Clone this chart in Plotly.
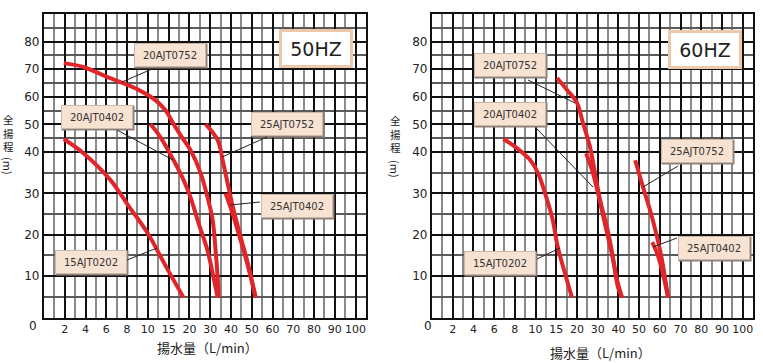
import numpy as np
import plotly.graph_objects as go

W, H = 763, 363

# ---------------- axis labels ----------------
x_tick_values = [0, 2, 4, 6, 8, 10, 15, 20, 30, 40, 50, 60, 70, 80, 90, 100]
x_tick_labels = ["", "2", "4", "6", "8", "10", "15", "20", "30", "40", "50", "60", "70", "80", "90", "100"]
y_tick_values = [10, 20, 30, 40, 50, 60, 70, 80]
y_minor_values = [5, 15, 25, 35, 45, 55, 65, 75, 85]

# ---------------- data (flow L/min, head m) ----------------
# 50 Hz
q15_50 = [1.9, 3.8, 6.4, 8.1, 10.0, 14.2, 18.6]
h15_50 = [44.7, 39.7, 33.2, 27.1, 20.3, 12.6, 4.8]
q20_0752_50 = [1.9, 3.8, 5.9, 7.3, 9.1, 11.8, 14.2, 16.2, 18.3, 20.5, 25.4, 28.7, 31.2, 32.6, 33.6, 34.1]
h20_0752_50 = [72.2, 70.8, 67.5, 65.4, 62.5, 58.8, 55.2, 50.1, 45.1, 40.7, 34.9, 29.1, 23.5, 16.2, 9.7, 4.8]
q20_0402_50 = [10.6, 13.0, 16.2, 18.6, 20.5, 24.4, 28.7, 31.6, 33.6]
h20_0402_50 = [50.1, 45.4, 38.0, 33.2, 29.1, 22.8, 16.2, 9.7, 4.8]
q25_0752_50 = [27.8, 33.6, 36.0, 38.4, 41.3, 44.7, 48.1, 51.9]
h25_0752_50 = [50.1, 44.3, 38.0, 32.4, 25.9, 19.4, 13.1, 4.8]
q25_0402_50 = [37.4, 40.6, 44.2, 47.8, 51.9]
h25_0402_50 = [30.0, 25.4, 19.4, 13.1, 4.8]
# 60 Hz
q15_60 = [6.9, 8.2, 9.5, 10.6, 12.3, 14.0, 15.4, 17.1, 18.8]
h15_60 = [44.7, 41.4, 38.0, 34.9, 30.0, 24.2, 16.9, 10.7, 4.8]
q20_0752_60 = [15.2, 17.6, 20.0, 22.9, 26.3, 28.7, 31.2, 34.5, 37.4, 39.8, 41.8]
h20_0752_60 = [66.8, 62.5, 57.8, 50.5, 41.8, 34.9, 28.3, 21.8, 14.5, 7.3, 4.8]
q20_0402_60 = [24.4, 27.3, 30.2, 33.1, 36.5, 39.4, 41.8]
h20_0402_60 = [39.7, 35.6, 30.0, 23.5, 16.2, 9.0, 4.8]
q25_0752_60 = [48.1, 51.9, 55.3, 58.7, 61.1, 64.0]
h25_0752_60 = [38.0, 31.5, 25.9, 19.4, 13.8, 4.8]
q25_0402_60 = [56.3, 58.7, 61.1, 64.0]
h25_0402_60 = [18.2, 15.5, 11.4, 4.8]

# ---------------- non-linear axis scales ----------------
X_GRID = [2 * i for i in range(len(x_tick_values))]   # each label two grid cells apart


def gx(q):
    return np.interp(q, x_tick_values, X_GRID)


def uy(h):
    return np.interp(h, [0, 40, 90], [0, 60, 110])


RED = "#e0262a"
FONT = "DejaVu Sans"
CJK = "Noto Sans CJK JP"

fig = go.Figure()

series = [
    ("x", "y", q15_50, h15_50), ("x", "y", q20_0752_50, h20_0752_50),
    ("x", "y", q20_0402_50, h20_0402_50), ("x", "y", q25_0752_50, h25_0752_50),
    ("x", "y", q25_0402_50, h25_0402_50),
    ("x2", "y2", q15_60, h15_60), ("x2", "y2", q20_0752_60, h20_0752_60),
    ("x2", "y2", q20_0402_60, h20_0402_60), ("x2", "y2", q25_0752_60, h25_0752_60),
    ("x2", "y2", q25_0402_60, h25_0402_60),
]
for xa, ya, q, h in series:
    fig.add_trace(go.Scatter(x=gx(q), y=uy(h), mode="lines", xaxis=xa, yaxis=ya,
                             line=dict(color=RED, width=4, shape="spline", smoothing=1.0),
                             hoverinfo="skip", showlegend=False))


def px_x(p):
    return p / W


def px_y(p):
    return 1 - p / H


def xaxis_cfg(x0, x1):
    return dict(domain=[px_x(x0), px_x(x1)], range=[0, 31], tickmode="array",
                tickvals=X_GRID, ticktext=x_tick_labels, showgrid=True,
                gridcolor="#111111", gridwidth=1.7,
                minor=dict(tickmode="array", tickvals=list(range(0, 32)), showgrid=True,
                           gridcolor="#8a8a8a", gridwidth=1.7),
                showline=True, linecolor="#111111", linewidth=2.2, mirror=True,
                zeroline=False, ticks="", tickfont=dict(family=FONT, size=11, color="#222"),
                fixedrange=True)


def yaxis_cfg(anchor):
    return dict(domain=[px_y(317.5), px_y(14)], range=[0, 110], tickmode="array",
                tickvals=list(uy(y_tick_values)), ticktext=[str(v) for v in y_tick_values],
                showgrid=True, gridcolor="#111111", gridwidth=1.7,
                minor=dict(tickmode="array", tickvals=list(uy(y_minor_values)), showgrid=True,
                           gridcolor="#5a5a5a", gridwidth=1.5),
                showline=True, linecolor="#111111", linewidth=2.2, mirror=True,
                zeroline=False, ticks="", tickfont=dict(family=FONT, size=12, color="#222"),
                anchor=anchor, fixedrange=True)


fig.update_layout(
    width=W, height=H, margin=dict(l=0, r=0, t=0, b=0),
    paper_bgcolor="white", plot_bgcolor="white",
    xaxis=dict(xaxis_cfg(44, 366), anchor="y"),
    yaxis=yaxis_cfg("x"),
    xaxis2=dict(xaxis_cfg(432, 753), anchor="y2"),
    yaxis2=yaxis_cfg("x2"),
)

annotations = []
shapes = []

# model label boxes (pixel centres)
boxes = [
    ("20AJT0752", 170, 55), ("20AJT0402", 97, 117), ("25AJT0752", 287, 124),
    ("25AJT0402", 297, 206), ("15AJT0202", 91, 262),
    ("20AJT0752", 510, 65), ("20AJT0402", 510, 114), ("25AJT0752", 697, 151),
    ("25AJT0402", 714, 248), ("15AJT0202", 500, 263),
]
for txt, cx, cy in boxes:
    shapes.append(dict(type="rect", xref="paper", yref="paper",
                       x0=px_x(cx - 35.5), x1=px_x(cx + 37.5), y0=px_y(cy + 13.5), y1=px_y(cy - 11.5),
                       fillcolor="#8f8078", line=dict(width=0), layer="above"))
    annotations.append(dict(text=txt, x=px_x(cx), y=px_y(cy), xref="paper", yref="paper",
                            xanchor="center", yanchor="middle", showarrow=False,
                            width=70, height=22, bgcolor="#f8e2d2", bordercolor="#c9b8ac",
                            borderwidth=1, borderpad=0,
                            font=dict(family=FONT, size=10, color="#333")))

# leader lines (pixel coordinates)
leaders = [
    (152, 69, 122, 82), (117, 130, 173, 160), (267, 137, 222, 157), (260, 202, 230, 205),
    (127, 260, 157, 248),
    (528, 80, 575, 103), (536, 128, 593, 187), (678, 166, 643, 187), (677, 238, 653, 247),
    (537, 259, 560, 248),
]
for x0, y0, x1, y1 in leaders:
    shapes.append(dict(type="line", xref="paper", yref="paper",
                       x0=px_x(x0), y0=px_y(y0), x1=px_x(x1), y1=px_y(y1),
                       line=dict(color="#222", width=1), layer="above"))

# frequency boxes
for txt, cx, cy in [("50HZ", 316, 48), ("60HZ", 705, 49)]:
    annotations.append(dict(text=txt, x=px_x(cx), y=px_y(cy), xref="paper", yref="paper",
                            xanchor="center", yanchor="middle", showarrow=False,
                            width=68, height=33, bgcolor="white", bordercolor="#ecc8ac",
                            borderwidth=3, borderpad=0,
                            font=dict(family=FONT, size=19, color="#222")))

# corner zero labels
for cx in (33, 428):
    annotations.append(dict(text="0", x=px_x(cx), y=px_y(326), xref="paper", yref="paper",
                            xanchor="center", yanchor="middle", showarrow=False,
                            font=dict(family=FONT, size=12, color="#222")))

# x axis titles
for cx, cy in [(207, 347), (600, 352)]:
    annotations.append(dict(text="揚水量（L/min）", x=px_x(cx), y=px_y(cy), xref="paper",
                            yref="paper", xanchor="center", yanchor="middle", showarrow=False,
                            font=dict(family=CJK, size=13, color="#222")))

# y axis titles (vertical writing)
for cx, yc, ym in [(8, 133, 166), (395, 134, 169)]:
    annotations.append(dict(text="全<br>揚<br>程", x=px_x(cx), y=px_y(yc), xref="paper",
                            yref="paper", xanchor="center", yanchor="middle", showarrow=False,
                            borderpad=0, font=dict(family=CJK, size=10.5, color="#222")))
    annotations.append(dict(text="(m)", x=px_x(cx), y=px_y(ym), xref="paper", yref="paper",
                            xanchor="center", yanchor="middle", showarrow=False, textangle=90,
                            borderpad=0, font=dict(family=CJK, size=11, color="#222")))

fig.update_layout(annotations=annotations, shapes=shapes)
fig.write_html("out.html", config={"displayModeBar": False},
               post_script="document.body.style.margin='0';document.body.style.overflow='hidden';")
